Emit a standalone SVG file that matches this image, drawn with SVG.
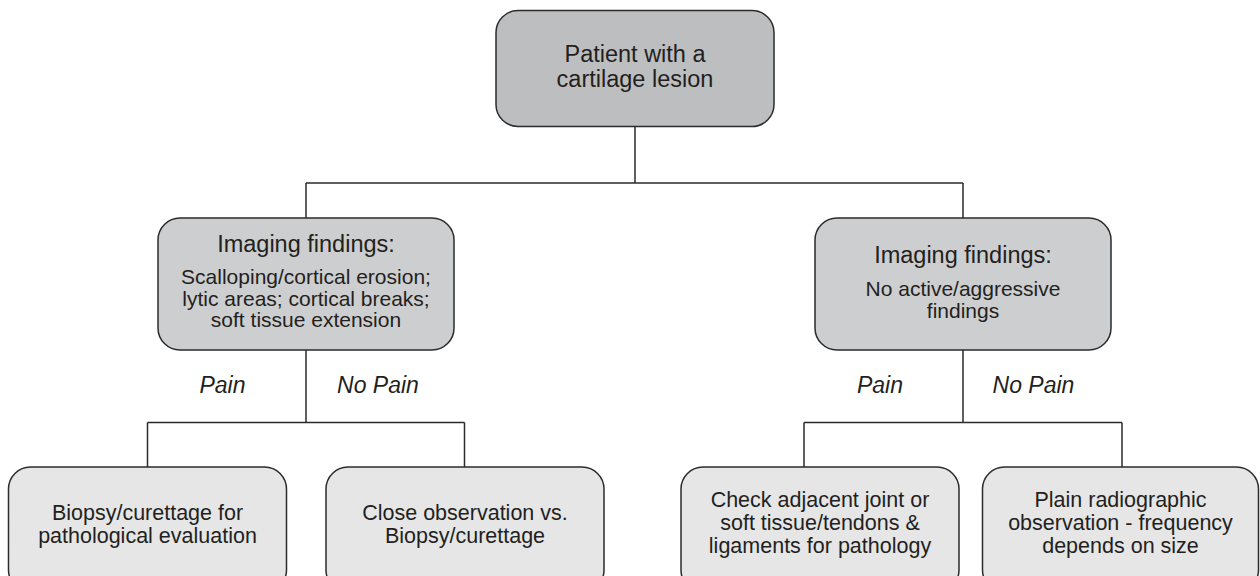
<svg xmlns="http://www.w3.org/2000/svg" width="1260" height="576" viewBox="0 0 1260 576">
<style>
.box{stroke:#2b2b2b;stroke-width:1.5}
.top{fill:#bdbec0}
.mid{fill:#cdcecf}
.bot{fill:#e6e6e7}
.conn{fill:none;stroke:#2b2b2b;stroke-width:1.5}
text{font-family:"Liberation Sans",Arial,sans-serif;fill:#231f20;text-anchor:middle}
.t{font-size:23.5px}
.b{font-size:21px}
.bb{font-size:21.5px}
.lbl{font-size:23px;font-style:italic}
</style>
<rect width="1260" height="576" fill="#ffffff"/>
<g id="connectors">
<path class="conn" d="M635,126 V183 M306,183 H963 M306,183 V218 M963,183 V218"/>
<path class="conn" d="M306,350 V422.5 M147.5,422.5 H464.5 M147.5,422.5 V467 M464.5,422.5 V467"/>
<path class="conn" d="M963,350 V422.5 M804,422.5 H1122 M804,422.5 V467 M1122,422.5 V467"/>
</g>
<g id="labels">
<text class="lbl" x="222.5" y="393">Pain</text>
<text class="lbl" x="378" y="393">No Pain</text>
<text class="lbl" x="880" y="393">Pain</text>
<text class="lbl" x="1033.5" y="393">No Pain</text>
</g>
<g id="n_patient">
<rect class="box top" x="496" y="10.5" width="278" height="116" rx="22"/>
<text class="t" x="635" y="62">Patient with a</text>
<text class="t" x="635" y="87">cartilage lesion</text>
</g>
<g id="n_active">
<rect class="box mid" x="158" y="218" width="296" height="132" rx="22"/>
<text class="t" x="306" y="252">Imaging findings:</text>
<text class="b" x="306" y="284">Scalloping/cortical erosion;</text>
<text class="b" x="306" y="305.5">lytic areas; cortical breaks;</text>
<text class="b" x="306" y="327">soft tissue extension</text>
</g>
<g id="n_inactive">
<rect class="box mid" x="815" y="218" width="296" height="132" rx="22"/>
<text class="t" x="963" y="263">Imaging findings:</text>
<text class="b" x="963" y="296">No active/aggressive</text>
<text class="b" x="963" y="318">findings</text>
</g>
<g id="n_biopsy">
<rect class="box bot" x="8.5" y="467" width="278" height="125" rx="22"/>
<text class="bb" x="147.5" y="519.5">Biopsy/curettage for</text>
<text class="bb" x="147.5" y="542.5">pathological evaluation</text>
</g>
<g id="n_close">
<rect class="box bot" x="326" y="467" width="278" height="125" rx="22"/>
<text class="bb" x="465" y="519.5">Close observation vs.</text>
<text class="bb" x="465" y="542.5">Biopsy/curettage</text>
</g>
<g id="n_check">
<rect class="box bot" x="681" y="467" width="278" height="125" rx="22"/>
<text class="bb" x="820" y="506.5">Check adjacent joint or</text>
<text class="bb" x="820" y="529.5">soft tissue/tendons &amp;</text>
<text class="bb" x="820" y="552.5">ligaments for pathology</text>
</g>
<g id="n_plain">
<rect class="box bot" x="982.5" y="467" width="276" height="125" rx="22"/>
<text class="bb" x="1120.5" y="506.5">Plain radiographic</text>
<text class="bb" x="1120.5" y="529.5">observation - frequency</text>
<text class="bb" x="1120.5" y="552.5">depends on size</text>
</g>
</svg>
